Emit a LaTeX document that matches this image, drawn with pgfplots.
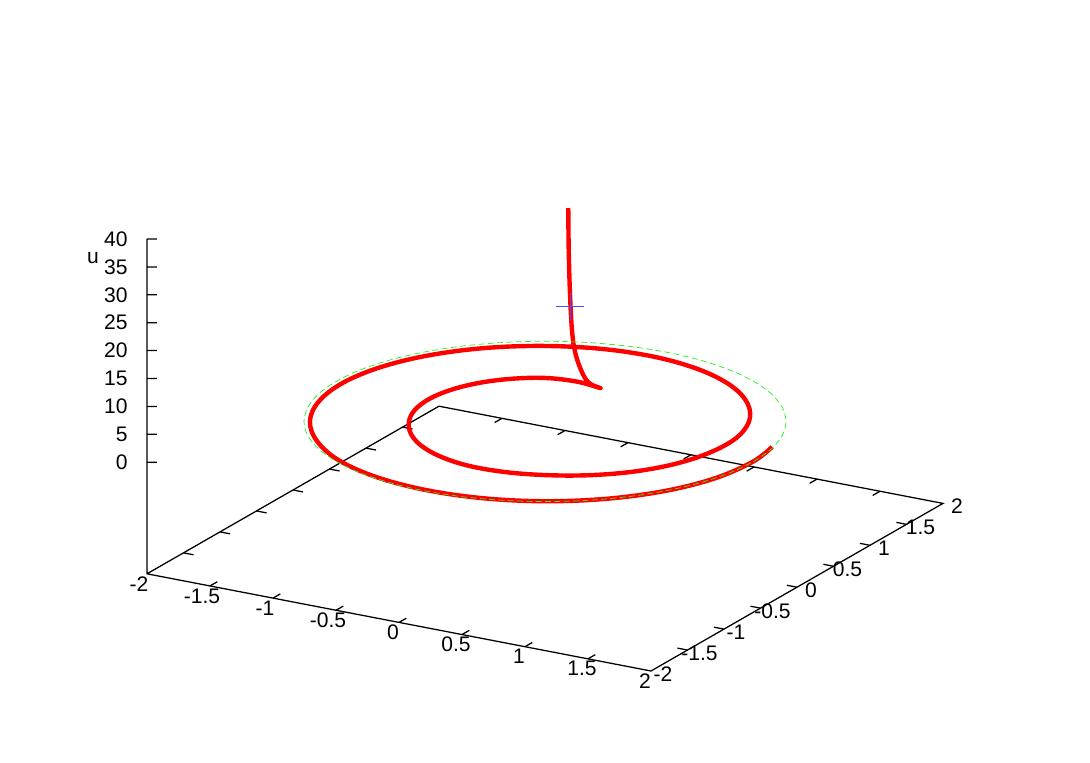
\documentclass[border=0pt]{standalone}
\usepackage{pgfplots}
\pgfplotsset{compat=1.18}
\usepackage{fontspec}
\setmainfont{Liberation Sans}
\definecolor{gpgreen}{RGB}{40,240,40}
\begin{document}
\begin{tikzpicture}
\path[use as bounding box] (-408.75pt,-252pt) rectangle (408.75pt,320.25pt);
\begin{axis}[
  at={(0pt,0pt)}, anchor=origin,
  x={(94.5pt,-18.225pt)}, y={(54.75pt,31.425pt)}, z={(0pt,4.185pt)},
  xmin=-2, xmax=2, ymin=-2, ymax=2, zmin=-20, zmax=40,
  clip=false,
  axis line style={draw=none},
  major tick length=0pt,
  tick style={draw=none},
  hide obscured x ticks=false, hide obscured y ticks=false, hide obscured z ticks=false,
  xtick={-2,-1.5,-1,-0.5,0,0.5,1,1.5,2},
  ytick={-2,-1.5,-1,-0.5,0,0.5,1,1.5,2},
  ztick={0,5,10,15,20,25,30,35,40},
  xticklabels={-2\kern3pt,-1.5\kern3pt,-1\kern3pt,-0.5\kern3pt,0,0.5,1,1.5,2},
  yticklabels={-2\kern3pt,-1.5\kern3pt,-1\kern3pt,-0.5\kern3pt,0,0.5,1,1.5,2},
  zticklabels={0,5,10,15,20,25,30,35,40},
  xticklabel pos=lower, yticklabel pos=lower, zticklabel pos=lower,
  tick label style={font=\fontsize{15.8}{18}\selectfont},
  xticklabel style={anchor=center, xshift=-4.5pt, yshift=-7.5pt},
  yticklabel style={anchor=center, xshift=10.5pt, yshift=-2.25pt},
  zticklabel style={anchor=east, xshift=-11pt},
  zlabel={u},
  zlabel style={at={(axis cs:-2,-2,36.5)}, anchor=center, rotate=-90, xshift=-40.5pt, font=\fontsize{15.8}{18}\selectfont},
  unbounded coords=jump,
]
% frame and tick marks
\addplot3[black, line width=0.95pt, forget plot] coordinates {
  (-2,-2,40) (-2,-2,-20) (2,-2,-20) (2,2,-20) (-2,2,-20) (-2,-2,-20)};
\addplot3[black, line width=0.95pt, forget plot] coordinates {
  (-2,-2,0) (-1.9406,-1.9655,0) (nan,nan,nan)
  (-2,-2,5) (-1.9406,-1.9655,5) (nan,nan,nan)
  (-2,-2,10) (-1.9406,-1.9655,10) (nan,nan,nan)
  (-2,-2,15) (-1.9406,-1.9655,15) (nan,nan,nan)
  (-2,-2,20) (-1.9406,-1.9655,20) (nan,nan,nan)
  (-2,-2,25) (-1.9406,-1.9655,25) (nan,nan,nan)
  (-2,-2,30) (-1.9406,-1.9655,30) (nan,nan,nan)
  (-2,-2,35) (-1.9406,-1.9655,35) (nan,nan,nan)
  (-2,-2,40) (-1.9406,-1.9655,40)
};
\addplot3[black, line width=0.95pt, forget plot] coordinates {
  (-1.5,-2,-20) (-1.5,-1.9,-20) (nan,nan,nan)
  (-1,-2,-20) (-1,-1.9,-20) (nan,nan,nan)
  (-0.5,-2,-20) (-0.5,-1.9,-20) (nan,nan,nan)
  (0,-2,-20) (0,-1.9,-20) (nan,nan,nan)
  (0.5,-2,-20) (0.5,-1.9,-20) (nan,nan,nan)
  (1,-2,-20) (1,-1.9,-20) (nan,nan,nan)
  (1.5,-2,-20) (1.5,-1.9,-20) (nan,nan,nan)
  (-1.5,2,-20) (-1.5,1.9,-20) (nan,nan,nan)
  (-1,2,-20) (-1,1.9,-20) (nan,nan,nan)
  (-0.5,2,-20) (-0.5,1.9,-20) (nan,nan,nan)
  (0,2,-20) (0,1.9,-20) (nan,nan,nan)
  (0.5,2,-20) (0.5,1.9,-20) (nan,nan,nan)
  (1,2,-20) (1,1.9,-20) (nan,nan,nan)
  (1.5,2,-20) (1.5,1.9,-20) (nan,nan,nan)
  (-2,-1.5,-20) (-1.92,-1.5,-20) (nan,nan,nan)
  (-2,-1,-20) (-1.92,-1,-20) (nan,nan,nan)
  (-2,-0.5,-20) (-1.92,-0.5,-20) (nan,nan,nan)
  (-2,0,-20) (-1.92,0,-20) (nan,nan,nan)
  (-2,0.5,-20) (-1.92,0.5,-20) (nan,nan,nan)
  (-2,1,-20) (-1.92,1,-20) (nan,nan,nan)
  (-2,1.5,-20) (-1.92,1.5,-20) (nan,nan,nan)
  (2,-1.5,-20) (1.92,-1.5,-20) (nan,nan,nan)
  (2,-1,-20) (1.92,-1,-20) (nan,nan,nan)
  (2,-0.5,-20) (1.92,-0.5,-20) (nan,nan,nan)
  (2,0,-20) (1.92,0,-20) (nan,nan,nan)
  (2,0.5,-20) (1.92,0.5,-20) (nan,nan,nan)
  (2,1,-20) (1.92,1,-20) (nan,nan,nan)
  (2,1.5,-20) (1.92,1.5,-20)
};
% red curve
\addplot3[red, line width=3.3pt, smooth, tension=0.6, line join=round, forget plot] coordinates {
  (0,0.319,36.85) (0,0.325,29.28) (0,0.342,21.45) (0,0.366,15.23) (0,0.397,11.42) (0,0.456,8.05)
  (0,0.548,4.66) (-0.01,0.657,2.60) (-0.014,0.786,1)
  (-0.220,0.821,1) (-0.449,0.777,1) (-0.643,0.643,1) (-0.792,0.458,1) (-0.886,0.237,1) (-0.92,0,1)
  (-0.893,-0.239,1) (-0.809,-0.467,1) (-0.675,-0.675,1) (-0.493,-0.853,1) (-0.264,-0.985,1) (0,-1.055,1)
  (0.280,-1.043,1) (0.554,-0.959,1) (0.813,-0.813,1) (1.039,-0.600,1) (1.207,-0.324,1) (1.30,0,1)
  (1.309,0.351,1) (1.213,0.701,1) (1.018,1.018,1) (0.738,1.277,1) (0.389,1.454,1) (0,1.53,1)
  (-0.400,1.494,1) (-0.779,1.349,1) (-1.110,1.110,1) (-1.368,0.790,1) (-1.536,0.411,1) (-1.60,0,1)
  (-1.552,-0.416,1) (-1.398,-0.807,1) (-1.144,-1.144,1) (-0.814,-1.410,1) (-0.422,-1.576,1) (0,-1.636,1)
  (0.425,-1.586,1) (0.824,-1.427,1) (1.168,-1.168,1) (1.433,-0.828,1) (1.599,-0.428,1) (1.652,0,1) (1.612,0.330,1)};
% green dashed circle
\addplot3[gpgreen, line width=0.55pt, dash pattern=on 4.5pt off 2.5pt, smooth, forget plot] coordinates {
  (1.655,0,1) (1.630,0.287,1) (1.555,0.566,1) (1.433,0.828,1) (1.268,1.064,1) (1.064,1.268,1)
  (0.828,1.433,1) (0.566,1.555,1) (0.287,1.630,1) (0,1.655,1)
  (-0.287,1.630,1) (-0.566,1.555,1) (-0.828,1.433,1) (-1.064,1.268,1) (-1.268,1.064,1) (-1.433,0.828,1)
  (-1.555,0.566,1) (-1.630,0.287,1) (-1.655,0,1)
  (-1.630,-0.287,1) (-1.555,-0.566,1) (-1.433,-0.828,1) (-1.268,-1.064,1) (-1.064,-1.268,1) (-0.828,-1.433,1)
  (-0.566,-1.555,1) (-0.287,-1.630,1) (0,-1.655,1)
  (0.287,-1.630,1) (0.566,-1.555,1) (0.828,-1.433,1) (1.064,-1.268,1) (1.268,-1.064,1) (1.433,-0.828,1)
  (1.555,-0.566,1) (1.630,-0.287,1) (1.655,0,1)};
% blue point
\addplot3[only marks, blue, mark=+, mark size=10.5pt, mark options={line width=0.6pt, blue!70!white}, forget plot] coordinates {(0,0.342,19.0)};
\end{axis}
\end{tikzpicture}
\end{document}
